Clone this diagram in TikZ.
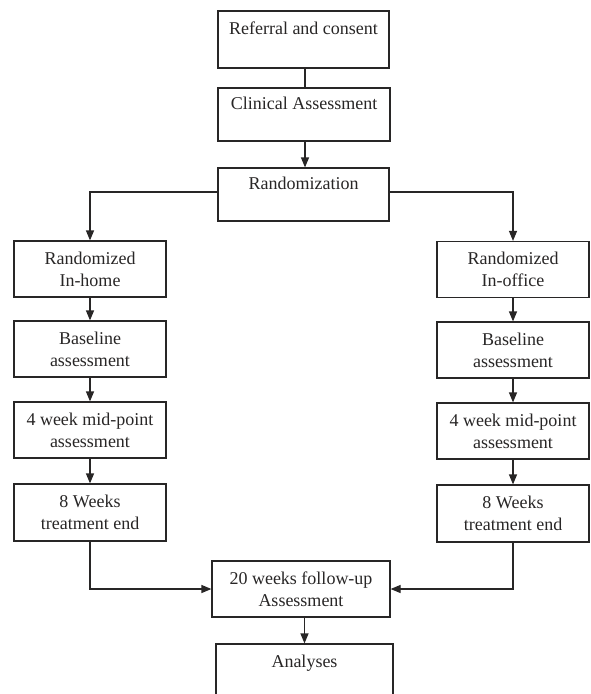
\documentclass[tikz,border=0pt]{standalone}
\usepackage{fontspec}
\setmainfont{Liberation Serif}
\usepackage{xcolor}
\usetikzlibrary{calc, arrows.meta, positioning}
\definecolor{ink}{RGB}{40,38,38}

\begin{document}
\begin{tikzpicture}[x=1pt, y=-1pt, >={Triangle[length=10pt,width=8pt]},
    box/.style={draw=ink, line width=1.2pt, text=ink, align=center, inner sep=0pt,
        font=\fontsize{18}{22}\selectfont, minimum height=56pt},
    col/.style={box, minimum width=152pt},
    link/.style={draw=ink, line width=1.2pt}]
    \useasboundingbox (0,0) rectangle (591,694);
    \clip (0,0) rectangle (591,694);
    \fill[white] (0,0) rectangle (591,694);

    % 1. Middle boxes
    \node[box, minimum width=171pt, minimum height=57pt] (ref) at (303.5,39.5) {Referral and consent\\ ~};
    \node[box, minimum width=172pt, minimum height=53pt] (clin) at (304,114.5) {Clinical Assessment\\ ~};
    \node[box, minimum width=171pt, minimum height=53pt] (rand) at (303.5,194.5) {Randomization\\ ~};

    % 2. In-home column
    \node[col] (homeA) at (90,269) {Randomized\\In-home};
    \node[col] (homeB) at (90,349) {Baseline\\assessment};
    \node[col] (homeC) at (90,430) {4 week mid-point\\assessment};
    \node[col, minimum height=57pt] (homeD) at (90,512.5) {8 Weeks\\treatment end};

    % 3. In-office column
    \node[col] (offA) at (513,269.5) {Randomized\\In-office};
    \node[col] (offB) at (513,350) {Baseline\\assessment};
    \node[col] (offC) at (513,431) {4 week mid-point\\assessment};
    \node[col, minimum height=57pt] (offD) at (513,513.5) {8 Weeks\\treatment end};

    % 4. Follow-up and analyses
    \node[box, minimum width=178pt] (fu) at (301,589) {20 weeks follow-up\\Assessment};
    \node[box, minimum width=177pt] (ana) at (304.5,672) {Analyses\\ ~};

    % 5. Connectors
    \coordinate (spine) at (305,192);
    \draw[link] (ref.south -| spine) -- (clin.north -| spine);
    \draw[link, ->] (clin.south -| spine) -- (rand.north -| spine);
    \draw[link, ->] (rand.west |- spine) -| (homeA.north);
    \draw[link, ->] (rand.east |- spine) -| (offA.north);
    \foreach \a/\b in {homeA/homeB, homeB/homeC, homeC/homeD, offA/offB, offB/offC, offC/offD} {
        \draw[link, ->] (\a.south) -- (\b.north);
    }
    \draw[link, ->] (homeD.south) |- (fu.west);
    \draw[link, ->] (offD.south) |- (fu.east);
    \draw[link, ->] (fu.south -| ana.north) -- (ana.north);
\end{tikzpicture}
\end{document}
